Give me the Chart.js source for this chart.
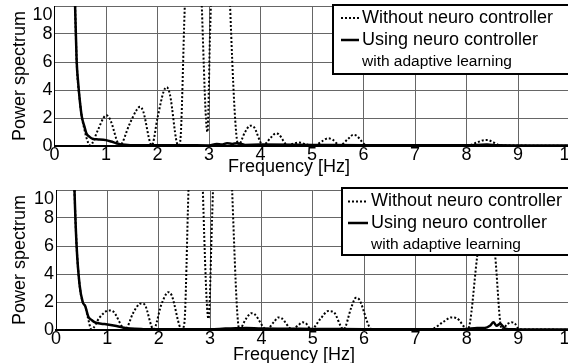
<!DOCTYPE html>
<html>
<head>
<meta charset="utf-8">
<script src="https://cdn.jsdelivr.net/npm/chart.js@4.4.1/dist/chart.umd.min.js"></script>
<style>
html, body { margin: 0; padding: 0; background: #fff; overflow: hidden; width: 568px; height: 363px; }
canvas { position: absolute; left: 0; }
#chartTop { top: 0; }
#chartBottom { top: 184px; }
</style>
</head>
<body>
<canvas id="chartTop" width="600" height="177"></canvas>
<canvas id="chartBottom" width="600" height="179"></canvas>
<script>
// Etiquetas
var labelWithout = 'Without neuro controller';
var labelUsing = ['Using neuro controller', 'with adaptive learning'];

// Gráfico superior: sin controlador (punteado)
var topFreqWithout = [0, 0.2, 0.38, 0.4, 0.43, 0.49, 0.53, 0.58, 0.62, 0.69, 0.85, 0.95, 1.01, 1.08, 1.27, 1.45, 1.6, 1.66, 1.72, 1.89, 2.0, 2.12, 2.18, 2.24, 2.4, 2.44, 2.53, 2.72, 2.86, 2.97, 3.02, 3.25, 3.41, 3.57, 3.7, 3.8, 3.86, 4.05, 4.2, 4.3, 4.35, 4.53, 4.62, 4.75, 4.9, 5.05, 5.2, 5.31, 5.4, 5.54, 5.7, 5.8, 5.86, 6.06, 6.5, 7.0, 7.5, 8.05, 8.2, 8.35, 8.42, 8.5, 8.65, 9.0, 9.5, 10];
var topPowerWithout = [200, 60, 13, 10, 6.1, 3.3, 2.1, 1.2, 0.6, 0.05, 1.2, 2.0, 2.2, 1.9, 0.05, 1.5, 2.6, 2.8, 2.5, 0.05, 2.0, 3.9, 4.2, 3.7, 0.05, 0.3, 10, 27, 10, 1, 8, 32, 10, 0.05, 1.0, 1.45, 1.4, 0.05, 0.6, 0.9, 0.85, 0.05, 0.15, 0.25, 0.1, 0.05, 0.35, 0.55, 0.45, 0.05, 0.5, 0.8, 0.75, 0.05, 0.02, 0.02, 0.03, 0.05, 0.25, 0.42, 0.42, 0.3, 0.05, 0.03, 0.02, 0.02];

// Gráfico superior: con controlador (línea continua)
var topFreqUsing = [0, 0.2, 0.38, 0.4, 0.43, 0.46, 0.49, 0.53, 0.58, 0.62, 0.68, 0.75, 0.85, 1.0, 1.1, 1.2, 1.3, 1.5, 2.0, 2.5, 3.0, 3.15, 3.25, 3.35, 3.45, 3.55, 3.7, 4.0, 5.0, 6.0, 7.0, 8.0, 8.4, 8.6, 9.0, 10];
var topPowerUsing = [200, 60, 13, 10, 6.1, 4.5, 3.3, 2.1, 1.4, 0.9, 0.65, 0.5, 0.47, 0.42, 0.32, 0.2, 0.1, 0.06, 0.05, 0.05, 0.04, 0.15, 0.1, 0.2, 0.15, 0.2, 0.08, 0.1, 0.08, 0.06, 0.05, 0.05, 0.1, 0.05, 0.04, 0.03];

// Gráfico inferior: sin controlador (punteado)
var botFreqWithout = [0, 0.2, 0.34, 0.36, 0.4, 0.46, 0.52, 0.57, 0.62, 0.69, 0.85, 0.98, 1.05, 1.12, 1.35, 1.5, 1.62, 1.67, 1.73, 1.9, 2.05, 2.15, 2.19, 2.25, 2.45, 2.5, 2.58, 2.75, 2.86, 2.97, 3.04, 3.25, 3.43, 3.57, 3.7, 3.8, 3.86, 4.1, 4.25, 4.33, 4.39, 4.6, 4.72, 4.8, 4.86, 4.97, 5.15, 5.3, 5.4, 5.6, 5.75, 5.84, 5.9, 6.15, 6.5, 7.0, 7.3, 7.55, 7.7, 7.8, 8.02, 8.2, 8.38, 8.55, 8.68, 8.8, 8.87, 8.94, 9.02, 9.5, 10];
var botPowerWithout = [200, 60, 13, 10, 6.1, 3.2, 2.0, 1.7, 0.9, 0.05, 0.9, 1.35, 1.4, 1.3, 0.05, 1.2, 1.85, 1.9, 1.8, 0.05, 1.8, 2.6, 2.7, 2.5, 0.05, 0.5, 10, 28, 10, 0.8, 8, 32, 10, 0.05, 0.8, 1.2, 1.15, 0.05, 0.6, 0.9, 0.85, 0.05, 0.35, 0.55, 0.5, 0.05, 0.8, 1.35, 1.3, 0.05, 1.6, 2.3, 2.2, 0.05, 0.03, 0.03, 0.05, 0.6, 0.9, 0.85, 0.05, 5.2, 11, 5.4, 0.05, 0.45, 0.55, 0.45, 0.05, 0.03, 0.02];

// Gráfico inferior: con controlador (línea continua)
var botFreqUsing = [0, 0.2, 0.34, 0.36, 0.4, 0.46, 0.52, 0.57, 0.63, 0.7, 0.76, 0.88, 1.0, 1.15, 1.3, 1.45, 1.7, 2.0, 2.5, 3.0, 3.3, 3.5, 3.7, 4.0, 5.0, 6.0, 7.0, 7.8, 8.0, 8.2, 8.35, 8.45, 8.52, 8.58, 8.65, 8.75, 8.9, 9.0, 10];
var botPowerUsing = [200, 60, 13, 10, 6.1, 3.2, 2.0, 1.7, 0.95, 0.7, 0.55, 0.45, 0.4, 0.3, 0.18, 0.1, 0.06, 0.05, 0.06, 0.05, 0.1, 0.12, 0.15, 0.1, 0.08, 0.06, 0.05, 0.05, 0.08, 0.15, 0.15, 0.3, 0.55, 0.3, 0.45, 0.1, 0.05, 0.04, 0.03];

// Ejes
var xTicks = [0, 1, 2, 3, 4, 5, 6, 7, 8, 9, 10];
var yTicks = [0, 2, 4, 6, 8, 10];
var xTitle = 'Frequency [Hz]';
var yTitle = 'Power spectrum';

var fontFamily = '"Liberation Sans", Arial, sans-serif';

function toPoints(xs, ys) {
    return xs.map(function (x, i) { return { x: x, y: ys[i] }; });
}

// Plugin para la leyenda en recuadro
var boxLegend = {
    id: 'boxLegend',
    afterDatasetsDraw: function (chart, args, opts) {
        var ctx = chart.ctx;
        ctx.save();
        ctx.fillStyle = '#fff';
        ctx.fillRect(opts.left, opts.top, opts.right - opts.left, opts.bottom - opts.top);
        ctx.lineWidth = 2;
        ctx.strokeStyle = '#000';
        ctx.strokeRect(opts.left, opts.top, opts.right - opts.left, opts.bottom - opts.top);
        ctx.fillStyle = '#000';
        ctx.textBaseline = 'middle';
        ctx.textAlign = 'left';
        var row = 0;
        chart.data.datasets.forEach(function (ds) {
            var lines = [].concat(ds.label);
            var y = opts.rows[row];
            ctx.beginPath();
            ctx.setLineDash(ds.borderDash || []);
            ctx.lineWidth = ds.borderWidth;
            ctx.moveTo(opts.sampleFrom, y);
            ctx.lineTo(opts.sampleTo, y);
            ctx.stroke();
            ctx.setLineDash([]);
            lines.forEach(function (txt, k) {
                ctx.font = (k === 0 ? '18px ' : '15.5px ') + fontFamily;
                ctx.fillText(txt, opts.textX, opts.rows[row]);
                row++;
            });
        });
        ctx.restore();
    }
};

// Plugin para el título del eje X
var xAxisTitle = {
    id: 'xAxisTitle',
    afterDraw: function (chart, args, opts) {
        var ctx = chart.ctx;
        ctx.save();
        ctx.font = '18px ' + fontFamily;
        ctx.fillStyle = '#000';
        ctx.textAlign = 'center';
        ctx.textBaseline = 'middle';
        ctx.fillText(opts.text, opts.x, opts.y);
        ctx.restore();
    }
};

function noOverhang(scale) {
    scale.paddingTop = 0;
    scale.paddingBottom = 0;
    scale.paddingLeft = 0;
    scale.paddingRight = 0;
}

function makeChart(id, freqWithout, powerWithout, freqUsing, powerUsing, axisLeft, axisBottom, legendOpts, titleOpts) {
    var ctx = document.getElementById(id).getContext('2d');
    return new Chart(ctx, {
        type: 'line',
        data: {
            datasets: [{
                label: labelWithout,
                data: toPoints(freqWithout, powerWithout),
                borderColor: '#000',
                borderWidth: 2,
                borderDash: [2, 2],
                pointRadius: 0,
                cubicInterpolationMode: 'monotone',
                fill: false
            }, {
                label: labelUsing,
                data: toPoints(freqUsing, powerUsing),
                borderColor: '#000',
                borderWidth: 2.5,
                pointRadius: 0,
                cubicInterpolationMode: 'monotone',
                fill: false
            }]
        },
        options: {
            responsive: false,
            animation: false,
            layout: { padding: { left: 0, right: 30.5, top: 6, bottom: 0 } },
            plugins: {
                legend: { display: false },
                tooltip: { enabled: false },
                boxLegend: legendOpts,
                xAxisTitle: titleOpts
            },
            scales: {
                x: {
                    type: 'linear',
                    min: 0,
                    max: 10,
                    afterBuildTicks: function (scale) {
                        scale.ticks = xTicks.map(function (v) { return { value: v }; });
                    },
                    afterFit: function (scale) { scale.height = axisBottom; noOverhang(scale); },
                    ticks: {
                        color: '#000',
                        padding: 0,
                        maxRotation: 0,
                        autoSkip: false,
                        font: { family: fontFamily, size: 18, lineHeight: 1 }
                    },
                    grid: { color: '#666', lineWidth: 1, drawTicks: false },
                    border: { color: '#000', width: 2 }
                },
                y: {
                    min: 0,
                    max: 10,
                    afterBuildTicks: function (scale) {
                        scale.ticks = yTicks.map(function (v) { return { value: v }; });
                    },
                    afterFit: function (scale) { scale.width = axisLeft; noOverhang(scale); },
                    ticks: {
                        color: '#000',
                        padding: 2,
                        autoSkip: false,
                        font: { family: fontFamily, size: 18, lineHeight: 1 },
                        // la etiqueta superior se baja una línea para que no quede cortada
                        callback: function (value) {
                            return value === 10 ? ['', '10'] : String(value);
                        }
                    },
                    grid: { color: '#666', lineWidth: 1, drawTicks: false },
                    border: { color: '#000', width: 1 },
                    title: {
                        display: true,
                        text: yTitle,
                        color: '#000',
                        padding: { top: 9, bottom: 0 },
                        font: { family: fontFamily, size: 18 }
                    }
                }
            }
        },
        plugins: [boxLegend, xAxisTitle]
    });
}

var chartTop = makeChart('chartTop', topFreqWithout, topPowerWithout, topFreqUsing, topPowerUsing, 54.5, 31,
    { left: 333, right: 592, top: 5, bottom: 74, rows: [18, 40, 62], sampleFrom: 341, sampleTo: 359, textX: 362 },
    { text: xTitle, x: 289, y: 167 });

var chartBottom = makeChart('chartBottom', botFreqWithout, botPowerWithout, botFreqUsing, botPowerUsing, 56, 33,
    { left: 342, right: 592, top: 4, bottom: 71, rows: [17.5, 39, 61], sampleFrom: 348, sampleTo: 368, textX: 371 },
    { text: xTitle, x: 294, y: 171 });
</script>
</body>
</html>
